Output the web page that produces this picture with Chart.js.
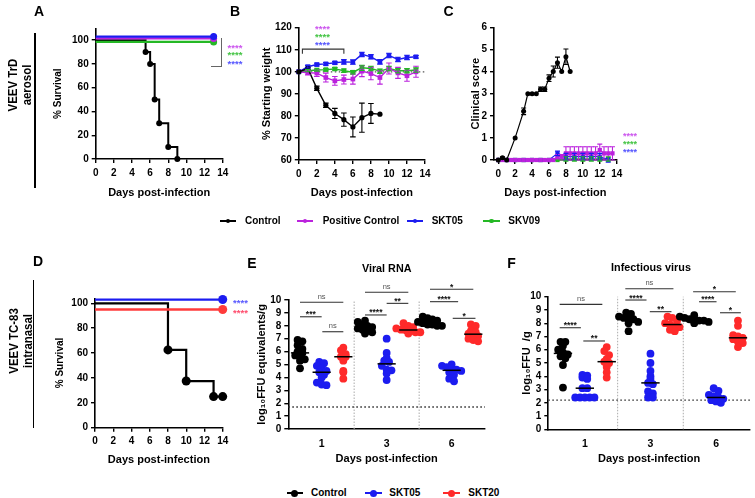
<!DOCTYPE html>
<html><head><meta charset="utf-8">
<script src="https://cdn.jsdelivr.net/npm/chart.js@4.4.1/dist/chart.umd.min.js"></script>
<style>
html,body{margin:0;padding:0;background:#fff;}
#root{position:relative;width:755px;height:498px;overflow:hidden;font-family:"Liberation Sans",Arial,"DejaVu Sans",sans-serif;color:#000;background:#fff;}
#root canvas{position:absolute;}
.t{position:absolute;white-space:nowrap;line-height:1;}
.ln{position:absolute;}
</style></head><body><div id="root"></div>
<script>
// ---------------- DATA ----------------
// Panel A: survival, VEEV TrD aerosol
const survA_days = [0, 5.5, 6, 6.5, 7, 8, 9];
const survA_control = [100, 90, 80, 50, 30, 10, 0];
const survA_lineDays = [0, 13];
const survA_positive = [101.5, 101.5];
const survA_skt05 = [103, 103];
const survA_skv09 = [98.5, 98.5];

// Panel B: % starting weight
const weightDays = [0,1,2,3,4,5,6,7,8,9,10,11,12,13];
const weightControl = [100,101.5,92.5,84.8,81.1,78.3,75,79.2,81.1,80.8];
const weightControlErr = [0,0.5,1,1,2.3,3,4.5,6.6,4.5,0];
const weightPositive = [100,99.6,99.4,97.4,95.9,96.5,96.7,100.3,99.2,97.4,101.5,99.5,98.2,100];
const weightPositiveErr = [0,1,1.5,2,2,2,2.3,2.5,2.8,3,2.5,2.5,2.5,2.5];
const weightSKT05 = [100,102.3,103.3,103.6,104.1,104.5,104.4,107.9,106.8,104.5,107.4,105.6,106.5,106.8];
const weightSKT05Err = [0,0.6,0.6,0.6,0.6,1,1,1,1,1,1,1,1,0.6];
const weightSKV09 = [100,100.5,100.8,101,101.3,100.5,99.8,101.8,101.5,100.3,101.5,100.5,100.5,100.8];
const weightSKV09Err = [0,0.5,0.5,0.5,0.6,0.8,0.8,1.2,1,1,1,1,1,1];

// Panel C: clinical score
const scoreControlDays = [0,0.5,1,2,3,3.5,4,4.5,5,5.5,6,6.5,7,7.5,8,8.5];
const scoreControl = [0,0.1,0,1,2.2,3,3,3,3.2,3.2,3.7,4,4.4,4,4.67,4];
const scoreControlErr = [0,0.05,0,0,0.15,0,0,0,0.1,0.1,0.15,0.25,0.25,0,0.35,0];
const scorePosDays = [0,0.5,1,1.5,2,2.5,3,3.5,4,4.5,5,5.5,6,6.5,7,7.5,8,8.5,9,9.5,10,10.5,11,11.5,12,12.5,13,13.5];
const scorePositive = [0,0,0,0,0,0,0,0,0,0,0,0,0,0,0.15,0.15,0.3,0.3,0.3,0.3,0.3,0.3,0.3,0.3,0.45,0.3,0.3,0.3];
const scorePositiveErr = [0,0,0,0,0,0,0,0,0,0,0,0,0,0,0.1,0.1,0.3,0.3,0.3,0.3,0.3,0.3,0.3,0.3,0.27,0.3,0.3,0.3];
const scoreDays = [0,1,2,3,4,5,6,7,8,9,10,11,12,13];
const scoreSKT05 = [0,0,0,0,0,0,0,0.3,0.15,0.15,0.15,0.15,0.15,0];
const scoreSKT05Err = [0,0,0,0,0,0,0,0.1,0.15,0.15,0.15,0.15,0.15,0.1];
const scoreSKV09 = [0,0,0,0,0,0,0,0,0.05,0.05,0.05,0.05,0.05,0.05];
const scoreSKV09Err = [0,0,0,0,0,0,0,0,0.1,0.1,0.1,0.1,0.1,0.1];

// Panel D: survival, VEEV TC-83 intranasal
const survD_days = [0, 8, 10, 13, 14];
const survD_control = [100, 62.5, 37.5, 25, 25];
const survD_lineDays = [0, 14];
const survD_skt05 = [103, 103];
const survD_skt20 = [95, 95];

// Panel E: viral RNA (log10 FFU equivalents/g), days 1, 3, 6
const rnaControl1 = [6.9,6.8,6.5,6.2,6.0,5.9,5.7,5.7,5.4,5.3,4.7];
const rnaSKT05_1 = [5.2,5.1,4.9,4.7,4.5,4.4,4.2,4.0,3.6,3.4,3.45];
const rnaSKT20_1 = [6.3,6.1,5.8,5.6,5.6,5.3,4.5,4.4,3.9];
const rnaControl3 = [8.4,8.3,8.1,8.0,7.9,7.8,7.7,7.6,7.5,7.4];
const rnaSKT05_3 = [7.0,5.9,5.5,5.3,5.2,4.9,4.6,4.55,4.3,3.8];
const rnaSKT20_3 = [8.2,8.0,7.9,7.8,7.7,7.65,7.6,7.5,7.5,7.4];
const rnaControl6 = [8.7,8.6,8.5,8.4,8.3,8.2,8.1,8.1,8.0,8.0];
const rnaSKT05_6 = [5.0,4.9,4.8,4.7,4.6,4.5,4.4,4.2,3.9,3.7];
const rnaSKT20_6 = [8.1,8.0,7.6,7.5,7.4,7.3,7.2,7.0,6.9,6.8];
const rnaLOD = 1.7;

// Panel F: infectious virus (log10 FFU/g), days 1, 3, 6
const ffuControl1 = [6.6,6.6,6.3,6.0,5.8,5.65,5.5,5.35,4.85,3.15];
const ffuSKT05_1 = [4.1,4.05,3.9,3.8,3.1,3.1,2.4,2.4,2.4,2.4,2.4];
const ffuSKT20_1 = [6.2,5.9,5.6,5.3,5.1,5.0,4.7,4.3,3.9];
const ffuControl3 = [8.8,8.7,8.5,8.4,8.3,8.3,8.1,8.0,7.4];
const ffuSKT05_3 = [5.7,5.0,4.4,4.0,3.8,3.5,3.4,2.85,2.7,2.4,2.4];
const ffuSKT20_3 = [8.5,8.4,8.2,8.0,7.9,7.8,7.7,7.5,7.4];
const ffuControl6 = [8.6,8.5,8.4,8.3,8.3,8.2,8.2,8.1,8.0];
const ffuSKT05_6 = [3.1,2.9,2.6,2.5,2.4,2.3,2.2,2.1,2.0];
const ffuSKT20_6 = [8.2,7.8,7.1,7.0,6.9,6.8,6.6,6.5,6.2];
const ffuLOD = 2.2;

// Tick labels
const dayTicks = [0,2,4,6,8,10,12,14];
const survTicks = [0,20,40,60,80,100];
const weightTicks = [60,70,80,90,100,110,120];
const scoreTicks = [0,1,2,3,4,5,6];
const loadTicks = [0,1,2,3,4,5,6,7,8,9,10];
const groupDayLabels = ['1','3','6'];

// ---------------- STYLE ----------------
const FONT = '"Liberation Sans", Arial, "DejaVu Sans", sans-serif';
const C_BLACK = '#000000', C_MAG = '#bb22dd', C_BLUE = '#1c1cf0', C_GREEN = '#25b825', C_RED = '#ff2a2a';
const root = document.getElementById('root');

function pts(xs, ys){ return ys.map((y,i)=>({x:xs[i], y:y})); }

function makeAnnot(cfg){
  return {
    id:'annot',
    beforeDatasetsDraw(chart){
      const ctx = chart.ctx, xs = chart.scales.x, ys = chart.scales.y;
      (cfg.lines||[]).forEach(l=>{
        ctx.save(); ctx.beginPath();
        l.pts.forEach((p,i)=>{const X=xs.getPixelForValue(p[0]),Y=ys.getPixelForValue(p[1]); if(i) ctx.lineTo(X,Y); else ctx.moveTo(X,Y);});
        ctx.strokeStyle=l.color; ctx.lineWidth=l.width||1; ctx.setLineDash(l.dash||[]); ctx.stroke(); ctx.restore();
      });
    },
    afterDatasetsDraw(chart){
      const ctx = chart.ctx, xs = chart.scales.x, ys = chart.scales.y;
      chart.data.datasets.forEach((ds,i)=>{
        if(!ds.errors) return;
        const meta = chart.getDatasetMeta(i);
        meta.data.forEach((pt,j)=>{
          const e = ds.errors[j]; if(!e) return;
          const v = ds.data[j].y;
          const y1 = ys.getPixelForValue(v+e), y2 = ys.getPixelForValue(v-e), X = pt.x, cap = cfg.cap||3;
          ctx.save(); ctx.strokeStyle = ds.borderColor; ctx.lineWidth = 1.1; ctx.beginPath();
          ctx.moveTo(X,y1); ctx.lineTo(X,y2);
          ctx.moveTo(X-cap,y1); ctx.lineTo(X+cap,y1);
          ctx.moveTo(X-cap,y2); ctx.lineTo(X+cap,y2);
          ctx.stroke(); ctx.restore();
        });
      });
      (cfg.medians||[]).forEach(m=>{
        ctx.save(); ctx.strokeStyle='#000'; ctx.lineWidth=1.5; ctx.beginPath();
        const Y = ys.getPixelForValue(m.y);
        ctx.moveTo(xs.getPixelForValue(m.x-m.half),Y); ctx.lineTo(xs.getPixelForValue(m.x+m.half),Y);
        ctx.stroke(); ctx.restore();
      });
      (cfg.brackets||[]).forEach(b=>{
        const X1 = xs.getPixelForValue(b.x1), X2 = xs.getPixelForValue(b.x2), Y = ys.getPixelForValue(b.y);
        ctx.save(); ctx.strokeStyle='#333'; ctx.lineWidth=1.1; ctx.beginPath();
        ctx.moveTo(X1,Y); ctx.lineTo(X2,Y); ctx.stroke();
        ctx.textAlign='center'; ctx.textBaseline='alphabetic';
        if(b.text==='ns'){ ctx.fillStyle='#555'; ctx.font='7.5px '+FONT; ctx.fillText(b.text,(X1+X2)/2,Y-3.5); }
        else { ctx.fillStyle='#111'; ctx.font='bold 8.5px '+FONT; ctx.fillText(b.text,(X1+X2)/2,Y+0.5); }
        ctx.restore();
      });
    }
  };
}

function makeChart(spec){
  const box = spec.box, plot = spec.plot;
  const c = document.createElement('canvas');
  c.width = box.w; c.height = box.h;
  c.style.left = box.x+'px'; c.style.top = box.y+'px';
  c.style.width = box.w+'px'; c.style.height = box.h+'px';
  root.appendChild(c);
  const yFs = spec.yTitleSize||11, xFs = 11;
  const tickFont = {family:FONT,size:10,weight:'bold'};
  new Chart(c, {
    type:'line',
    data:{datasets:spec.datasets},
    options:{
      responsive:false, animation:false, devicePixelRatio:1,
      layout:{padding:{left:0, top:plot.t-box.y, right:box.x+box.w-plot.r, bottom:0}},
      plugins:{legend:{display:false}, tooltip:{enabled:false}},
      elements:{line:{tension:0}},
      scales:{
        x:{type:'linear', min:spec.xmin, max:spec.xmax,
          afterBuildTicks:s=>{ s.ticks = spec.xticks.map(v=>({value:v})); },
          afterFit:s=>{ s.height = box.y+box.h-plot.b; },
          grid:{display:spec.xTickMarks!==false, drawOnChartArea:false, drawTicks:true, tickLength:4, color:'#000', lineWidth:1.4},
          border:{display:true, color:'#000', width:1.6},
          ticks:{color:'#000', font:{family:FONT,size:spec.xTickSize||10,weight:'bold'}, padding:spec.xTickPad||4, maxRotation:0, autoSkip:false,
            callback:(v,i)=> spec.xlabels ? spec.xlabels[i] : String(v)},
          title:{display:true, text:spec.xTitle, color:'#000', font:{family:FONT,size:xFs,weight:'bold'},
            padding:{top:0,bottom:(box.y+box.h)-spec.xTitleY-xFs*0.6}}
        },
        y:{type:'linear', min:spec.ymin, max:spec.ymax,
          afterBuildTicks:s=>{ s.ticks = spec.yticks.map(v=>({value:v})); },
          afterFit:s=>{ s.width = plot.l-box.x; },
          grid:{display:true, drawOnChartArea:false, drawTicks:true, tickLength:4, color:'#000', lineWidth:1.4},
          border:{display:true, color:'#000', width:1.6},
          ticks:{color:'#000', font:tickFont, padding:3, autoSkip:false, callback:v=>String(v)},
          title:{display:true, text:spec.yTitle, color:'#000', font:{family:FONT,size:yFs,weight:'bold'},
            padding:{top:spec.yTitleX-box.x-yFs*0.6,bottom:0}}
        }
      }
    },
    plugins:[makeAnnot(spec.annot||{})]
  });
}

function lineDs(label, data, color, o={}){
  return Object.assign({label, data, borderColor:color, backgroundColor:color, pointBackgroundColor:color,
    pointBorderColor:color, borderWidth:1.4, pointRadius:2.5, pointBorderWidth:0, clip:false, fill:false}, o);
}

// ---------------- PANEL A ----------------
makeChart({
  box:{x:0,y:0,w:245,h:205}, plot:{l:95.7,t:28.3,r:222.7,b:159},
  xmin:0,xmax:14,xticks:dayTicks, ymin:0,ymax:110,yticks:survTicks,
  xTitle:'Days post-infection', yTitle:'% Survival', yTitleSize:10, xTitleY:193, yTitleX:58,
  datasets:[
    lineDs('SKT05', pts(survA_lineDays,survA_skt05), C_BLUE, {borderWidth:2.2, pointRadius:c=>c.dataIndex===1?3.5:0}),
    lineDs('Positive Control', pts(survA_lineDays,survA_positive), C_MAG, {borderWidth:2.2, pointRadius:c=>c.dataIndex===1?3.5:0}),
    lineDs('SKV09', pts(survA_lineDays,survA_skv09), C_GREEN, {borderWidth:2.2, pointRadius:c=>c.dataIndex===1?3.5:0}),
    lineDs('Control', pts(survA_days,survA_control), C_BLACK, {borderWidth:2, stepped:'before', pointRadius:c=>c.dataIndex===0?0:3})
  ]
});

// ---------------- PANEL B ----------------
makeChart({
  box:{x:235,y:0,w:200,h:205}, plot:{l:298.8,t:27.7,r:425,b:160},
  xmin:0,xmax:14,xticks:dayTicks, ymin:60,ymax:120,yticks:weightTicks,
  xTitle:'Days post-infection', yTitle:'% Starting weight', xTitleY:192.7, yTitleX:267,
  annot:{cap:2.8, lines:[
    {pts:[[0,100],[14,100]], color:'#555', dash:[1.5,2.5], width:1.3},
    {pts:[[0.4,108.2],[0.4,110.3],[5,110.3],[5,108.2]], color:'#333', width:1.1}
  ]},
  datasets:[
    lineDs('Control', pts(weightDays,weightControl), C_BLACK, {errors:weightControlErr, pointRadius:2.6}),
    lineDs('SKT05', pts(weightDays,weightSKT05), C_BLUE, {errors:weightSKT05Err, pointStyle:'rect', pointRadius:3.3}),
    lineDs('Positive Control', pts(weightDays,weightPositive), C_MAG, {errors:weightPositiveErr, pointStyle:'rect', pointRadius:3.3}),
    lineDs('SKV09', pts(weightDays,weightSKV09), C_GREEN, {errors:weightSKV09Err, pointStyle:'rect', pointRadius:3.3})
  ]
});

// ---------------- PANEL C ----------------
makeChart({
  box:{x:440,y:0,w:200,h:205}, plot:{l:494,t:27.3,r:616.7,b:160},
  xmin:-0.5,xmax:14,xticks:dayTicks, ymin:0,ymax:6,yticks:scoreTicks,
  xTitle:'Days post-infection', yTitle:'Clinical score', xTitleY:192.7, yTitleX:476,
  annot:{cap:2.5},
  datasets:[
    lineDs('Control', pts(scoreControlDays,scoreControl), C_BLACK, {errors:scoreControlErr, borderWidth:1.2, pointRadius:2.5}),
    lineDs('Positive Control', pts(scorePosDays,scorePositive), C_MAG, {errors:scorePositiveErr, borderWidth:1.2, pointStyle:'rect', pointRadius:3}),
    lineDs('SKT05', pts(scoreDays,scoreSKT05), C_BLUE, {errors:scoreSKT05Err, borderWidth:1.2, pointStyle:'rect', pointRadius:3}),
    lineDs('SKV09', pts(scoreDays,scoreSKV09), C_GREEN, {errors:scoreSKV09Err, borderWidth:1.2, pointStyle:'rect', pointRadius:3})
  ]
});

// ---------------- PANEL D ----------------
makeChart({
  box:{x:0,y:255,w:245,h:215}, plot:{l:95,t:298.3,r:222.7,b:427.7},
  xmin:0,xmax:14,xticks:dayTicks, ymin:0,ymax:104,yticks:survTicks,
  xTitle:'Days post-infection', yTitle:'% Survival', yTitleSize:10, xTitleY:460, yTitleX:60,
  datasets:[
    lineDs('SKT05', pts(survD_lineDays,survD_skt05), C_BLUE, {borderWidth:2.3, pointRadius:c=>c.dataIndex===1?4.5:0}),
    lineDs('SKT20', pts(survD_lineDays,survD_skt20), '#ff3b3b', {borderWidth:2.3, pointRadius:c=>c.dataIndex===1?4.5:0}),
    lineDs('Control', pts(survD_days,survD_control), C_BLACK, {borderWidth:2.2, stepped:'before', pointRadius:c=>c.dataIndex===0?0:4.5})
  ]
});

// ---------------- PANELS E, F (scatter) ----------------
// Deterministic row-based spread (like a column scatter): points in the same value band sit side by side.
function spread(values, center, pxX, pxY){
  const rowH = 5.5, gap = 4.8;
  const rows = {};
  values.forEach((v,i)=>{ const r = Math.round(v*pxY/rowH); (rows[r] = rows[r]||[]).push(i); });
  const out = new Array(values.length);
  Object.values(rows).forEach(idx=>{
    idx.sort((a,b)=>values[b]-values[a]);
    const n = idx.length;
    idx.forEach((i,k)=>{
      const off = (k-(n-1)/2)*gap;
      out[i] = {x:center+off/pxX, y:values[i]};
    });
  });
  return out;
}
function median(a){ const s=[...a].sort((x,y)=>x-y), n=s.length; return n%2?s[(n-1)/2]:(s[n/2-1]+s[n/2])/2; }

function scatterPanel(spec, groups, pxX, pxY, lod, brackets){
  const colors = [C_BLACK, C_BLUE, C_RED];
  const byT = [[],[],[]], medians = [];
  groups.forEach((vals,g)=>{
    const t = g%3;
    byT[t].push(...spread(vals, g, pxX, pxY));
    medians.push({x:g, y:median(vals), half:0.42});
  });
  spec.datasets = byT.map((d,t)=>({label:['Control','SKT05','SKT20'][t], data:d, showLine:false,
    backgroundColor:colors[t], pointBackgroundColor:colors[t], pointBorderColor:colors[t], pointBorderWidth:0,
    pointRadius:3.9, clip:false}));
  spec.annot = {lines:[
      {pts:[[2.5,0],[2.5,10]], color:'#aaa', dash:[1.5,1.5], width:1},
      {pts:[[5.5,0],[5.5,10]], color:'#aaa', dash:[1.5,1.5], width:1},
      {pts:[[spec.xmin,lod],[spec.xmax,lod]], color:'#333', dash:[1.6,2.4], width:1.4}
    ], medians, brackets};
  makeChart(spec);
}

scatterPanel({
  box:{x:240,y:272,w:250,h:198}, plot:{l:288.3,t:300,r:485,b:429},
  xmin:-0.54,xmax:8.54,xticks:[1,4,7],xlabels:groupDayLabels,xTickMarks:false,xTickPad:5,xTickSize:10.5,
  ymin:0,ymax:10,yticks:loadTicks,
  xTitle:'Days post-infection', yTitle:'log\u2081\u2080FFU equivalents/g', xTitleY:459.3, yTitleX:262
}, [rnaControl1,rnaSKT05_1,rnaSKT20_1,rnaControl3,rnaSKT05_3,rnaSKT20_3,rnaControl6,rnaSKT05_6,rnaSKT20_6],
21.67, 12.9, rnaLOD, [
  {x1:0,x2:2,y:9.82,text:'ns'},{x1:0,x2:1,y:8.7,text:'***'},{x1:1.03,x2:2,y:7.54,text:'ns'},
  {x1:3,x2:5,y:10.6,text:'ns'},{x1:4,x2:5,y:9.74,text:'**'},{x1:3,x2:4,y:8.84,text:'****'},
  {x1:6,x2:8,y:10.83,text:'*'},{x1:6,x2:7.3,y:9.87,text:'****'},{x1:7.05,x2:8.1,y:8.58,text:'*'}
]);

scatterPanel({
  box:{x:505,y:272,w:250,h:198}, plot:{l:548.3,t:296.7,r:750,b:429.3},
  xmin:-0.67,xmax:8.55,xticks:[1,4,7],xlabels:groupDayLabels,xTickMarks:false,xTickPad:5,xTickSize:10.5,
  ymin:0,ymax:10,yticks:loadTicks,
  xTitle:'Days post-infection', yTitle:'log\u2081\u2080FFU  /g', xTitleY:459, yTitleX:527
}, [ffuControl1,ffuSKT05_1,ffuSKT20_1,ffuControl3,ffuSKT05_3,ffuSKT20_3,ffuControl6,ffuSKT05_6,ffuSKT20_6],
21.87, 13.26, ffuLOD, [
  {x1:-0.15,x2:1.8,y:9.42,text:'ns'},{x1:-0.15,x2:0.82,y:7.66,text:'****'},{x1:0.93,x2:1.92,y:6.66,text:'**'},
  {x1:2.85,x2:5.05,y:10.6,text:'ns'},{x1:2.85,x2:3.82,y:9.75,text:'****'},{x1:3.97,x2:4.96,y:8.87,text:'**'},
  {x1:5.95,x2:7.9,y:10.37,text:'*'},{x1:6.22,x2:7.02,y:9.62,text:'****'},{x1:7.18,x2:8.13,y:8.79,text:'*'}
]);

// ---------------- HTML TEXT & DECORATION ----------------
function label(text, x, y, size, o={}){
  const d = document.createElement('div');
  d.className = 't';
  if(o.lines){ o.lines.forEach((s,i)=>{ if(i) d.appendChild(document.createElement('br')); d.appendChild(document.createTextNode(s)); }); }
  else d.textContent = text;
  d.style.fontSize = size+'px';
  d.style.left = x+'px'; d.style.top = y+'px';
  d.style.color = o.color||'#000';
  d.style.fontWeight = o.weight||'bold';
  d.style.textAlign = 'center';
  if(o.lh) d.style.lineHeight = o.lh+'px';
  let tr = 'translate(-50%,-50%)';
  if(o.rot) tr += ' rotate('+o.rot+'deg)';
  if(o.sx) tr += ' scale('+o.sx+','+(o.sy||1)+')';
  d.style.transform = tr;
  root.appendChild(d);
}
function rect(x, y, w, h, color){
  const d = document.createElement('div'); d.className='ln';
  d.style.left=x+'px'; d.style.top=y+'px'; d.style.width=w+'px'; d.style.height=h+'px'; d.style.background=color;
  root.appendChild(d);
}
function dot(x, y, r, color){
  const d = document.createElement('div'); d.className='ln';
  d.style.left=(x-r)+'px'; d.style.top=(y-r)+'px'; d.style.width=(2*r)+'px'; d.style.height=(2*r)+'px';
  d.style.borderRadius='50%'; d.style.background=color; root.appendChild(d);
}
function stars(x, y, size, color){ label('****', x, y+0.23*size, size, {color}); }

// panel letters
label('A', 39, 10.5, 14); label('B', 235, 10.5, 14); label('C', 448.5, 10.5, 14);
label('D', 38, 261, 14); label('E', 252, 262.5, 14); label('F', 511.5, 263, 14);

// side labels
label('', 19, 85, 13, {lines:['VEEV TrD','aerosol'], rot:-90, sx:0.88, sy:1.05, lh:13});
rect(34.3, 33, 1.4, 155, '#000');
label('', 19.5, 341, 13, {lines:['VEEV TC-83','intranasal'], rot:-90, sx:0.88, sy:1.05, lh:13});
rect(32.6, 280, 1.4, 148, '#000');

// panel titles
label('Viral RNA', 386.7, 268, 10.8);
label('Infectious virus', 651, 267, 10.8);

// significance marks
stars(235, 45.7, 9.5, '#cc55ee'); stars(235, 53.3, 9.5, '#44c444'); stars(235, 61.7, 9.5, '#5555ff');
rect(221, 37.7, 1.2, 29.6, '#666'); rect(211, 66.1, 11.2, 1.2, '#666');
stars(322.5, 27.3, 9.5, '#cc55ee'); stars(322.5, 35, 9.5, '#44c444'); stars(322.5, 42.7, 9.5, '#5555ff');
stars(630, 134.3, 9, '#cc55ee'); stars(630, 141.7, 9, '#44c444'); stars(630, 149.7, 9, '#5555ff');
stars(240.5, 300.7, 9.5, '#5a5aff'); stars(240.5, 311, 9.5, '#ff4d6d');

// top legend
const topLegend = [
  {c:C_BLACK, x1:220, x2:236, t:'Control', tx:245},
  {c:C_MAG, x1:297, x2:313, t:'Positive Control', tx:322.7},
  {c:C_BLUE, x1:407, x2:423, t:'SKT05', tx:431.7},
  {c:C_GREEN, x1:483, x2:500, t:'SKV09', tx:508.3}
];
topLegend.forEach(it=>{
  rect(it.x1, 220, it.x2-it.x1, 1.5, it.c); dot((it.x1+it.x2)/2, 220.7, 2.2, it.c);
  const d = document.createElement('div'); d.className='t'; d.textContent=it.t;
  d.style.fontSize='10px'; d.style.fontWeight='bold'; d.style.left=it.tx+'px'; d.style.top=(220.7-5)+'px';
  root.appendChild(d);
});
// bottom legend
const botLegend = [
  {c:C_BLACK, x1:286.7, x2:302.7, t:'Control', tx:311},
  {c:C_BLUE, x1:365, x2:381.7, t:'SKT05', tx:389.3},
  {c:C_RED, x1:443, x2:460, t:'SKT20', tx:468.3}
];
botLegend.forEach(it=>{
  rect(it.x1, 492.4, it.x2-it.x1, 2, it.c); dot((it.x1+it.x2)/2, 493.3, 3.8, it.c);
  const d = document.createElement('div'); d.className='t'; d.textContent=it.t;
  d.style.fontSize='10px'; d.style.fontWeight='bold'; d.style.left=it.tx+'px'; d.style.top=(493.3-5)+'px';
  root.appendChild(d);
});
</script></body></html>
